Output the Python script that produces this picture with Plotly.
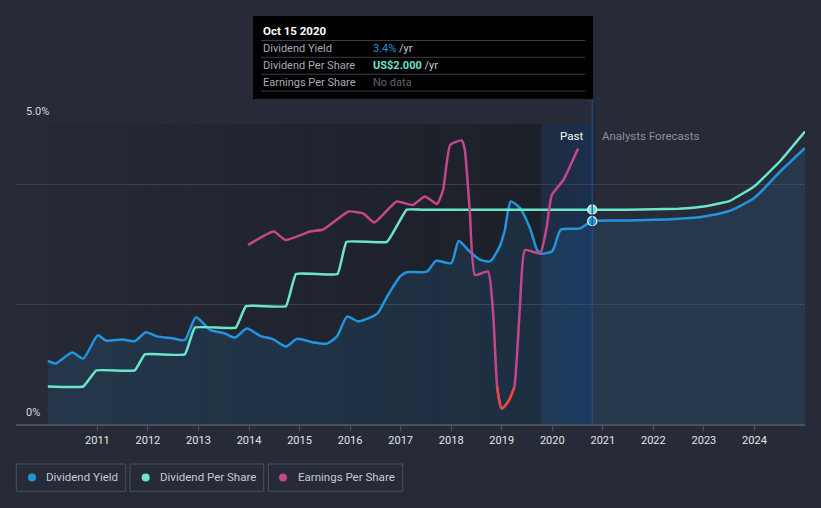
import plotly.graph_objects as go

# ---------------- data ----------------
yield_years = [2010.02, 2010.18, 2010.50, 2010.72, 2011.01, 2011.17, 2011.49, 2011.74, 2011.96,
               2012.18, 2012.48, 2012.73, 2012.95, 2013.23, 2013.52, 2013.72, 2013.96, 2014.22,
               2014.48, 2014.73, 2014.95, 2015.27, 2015.54, 2015.74, 2015.94, 2016.16, 2016.44,
               2016.55, 2016.73, 2016.99, 2017.12, 2017.52, 2017.70, 2018.00, 2018.15, 2018.37,
               2018.57, 2018.77, 2018.96, 2019.06, 2019.18, 2019.36, 2019.56, 2019.70, 2019.78,
               2020.00, 2020.17, 2020.55, 2020.79,
               2021.50, 2022.50, 2023.00, 2023.50, 2024.00, 2024.50, 2025.00]
yield_pct = [1.05, 1.01, 1.19, 1.09, 1.48, 1.39, 1.41, 1.38, 1.53,
             1.46, 1.43, 1.40, 1.78, 1.57, 1.51, 1.44, 1.59, 1.47,
             1.41, 1.29, 1.42, 1.36, 1.34, 1.46, 1.79, 1.71, 1.79,
             1.85, 2.12, 2.46, 2.53, 2.54, 2.72, 2.68, 3.05, 2.87,
             2.74, 2.71, 2.96, 3.23, 3.71, 3.60, 3.26, 2.90, 2.84,
             2.88, 3.24, 3.26, 3.38,
             3.39, 3.42, 3.46, 3.55, 3.77, 4.20, 4.60]

dps_years = [2010.02, 2010.72, 2010.98, 2011.74, 2011.94, 2012.73, 2012.93, 2013.74, 2013.94,
             2014.73, 2014.93, 2015.75, 2015.93, 2016.73, 2017.12, 2017.40, 2018.50, 2019.50,
             2020.50, 2020.79,
             2021.50, 2022.50, 2023.00, 2023.50, 2024.00, 2024.50, 2025.00]
dps_usd = [0.35, 0.35, 0.50, 0.50, 0.65, 0.65, 0.90, 0.90, 1.10,
           1.10, 1.40, 1.40, 1.70, 1.70, 2.00, 2.00, 2.00, 2.00,
           2.00, 2.00,
           2.00, 2.01, 2.03, 2.08, 2.22, 2.45, 2.73]

eps_years = [2013.98, 2014.49, 2014.72, 2015.21, 2015.47, 2015.97, 2016.26, 2016.48, 2016.92,
             2017.24, 2017.48, 2017.72, 2017.84, 2017.98, 2018.21, 2018.27, 2018.37, 2018.47,
             2018.73, 2018.83, 2018.91, 2019.00, 2019.13, 2019.25, 2019.36, 2019.46, 2019.76,
             2019.89, 2019.99, 2020.22, 2020.51]
eps_usd = [2.84, 3.11, 2.94, 3.11, 3.15, 3.51, 3.47, 3.29, 3.71,
           3.64, 3.81, 3.66, 3.94, 4.84, 4.93, 4.74, 3.48, 2.24,
           2.31, 1.47, 0.00, -0.43, -0.29, 0.00, 1.61, 2.74, 2.67,
           3.20, 3.84, 4.14, 4.77]

today = 2020.79
tick_years = [2011, 2012, 2013, 2014, 2015, 2016, 2017, 2018, 2019, 2020, 2021, 2022, 2023, 2024]
tick_labels = [str(y) for y in tick_years]

# ---------------- style ----------------
BG = "#262b37"
BLUE = "#2394df"
TEAL = "#6ce5cb"
PINK = "#c4468b"
RED = "#e8453c"
FONT = "Roboto"

W, H = 821, 508
L, R, T, B = 16, 16, 124, 84
PW, PH = W - L - R, H - T - B
X0, X1 = 2009.39, 2025.0


def px(x):
    return (x - L) / PW


def py(y):
    return (H - B - y) / PH


fig = go.Figure()

# negative EPS segment
neg_x, neg_y = [], []
for i, v in enumerate(eps_usd):
    if v <= 0:
        neg_x.append(eps_years[i])
        neg_y.append(v)

fig.add_trace(go.Scatter(x=yield_years, y=yield_pct, mode="lines", name="Dividend Yield",
                         line=dict(color=BLUE, width=2.5, shape="spline", smoothing=0.6),
                         fill="tozeroy", fillcolor="rgba(35,148,223,0.13)", hoverinfo="skip"))
fig.add_trace(go.Scatter(x=dps_years, y=dps_usd, mode="lines", name="Dividend Per Share", yaxis="y2",
                         line=dict(color=TEAL, width=2.5, shape="spline", smoothing=0.3), hoverinfo="skip"))
fig.add_trace(go.Scatter(x=eps_years, y=eps_usd, mode="lines", name="Earnings Per Share", yaxis="y3",
                         line=dict(color=PINK, width=2.5, shape="spline", smoothing=0.45), hoverinfo="skip"))
fig.add_trace(go.Scatter(x=neg_x, y=neg_y, mode="lines", yaxis="y3",
                         line=dict(color=RED, width=2.5, shape="spline", smoothing=0.8), hoverinfo="skip"))

# today markers
fig.add_trace(go.Scatter(x=[today], y=[dps_usd[dps_years.index(today)]], mode="markers", yaxis="y2",
                         marker=dict(color=TEAL, size=9, line=dict(color="white", width=1.2)), hoverinfo="skip"))
fig.add_trace(go.Scatter(x=[today], y=[yield_pct[yield_years.index(today)]], mode="markers",
                         marker=dict(color=BLUE, size=9, line=dict(color="white", width=1.2)), hoverinfo="skip"))

shapes = []
# dark past gradient
n = 30
xs0, xs1 = 2010.02, 2019.78
for i in range(n):
    a = xs0 + (xs1 - xs0) * i / n
    b = xs0 + (xs1 - xs0) * (i + 1) / n
    op = 0.34 * ((i + 1) / n) ** 0.8
    shapes.append(dict(type="rect", xref="x", yref="paper", x0=a, x1=b, y0=0, y1=1,
                       fillcolor=f"rgba(10,12,16,{op:.3f})", line=dict(width=0), layer="below"))
# blue "past" highlight
m = 12
for i in range(m):
    a = xs1 + (today - xs1) * i / m
    b = xs1 + (today - xs1) * (i + 1) / m
    op = 0.28 + 0.28 * (i + 1) / m
    shapes.append(dict(type="rect", xref="x", yref="paper", x0=a, x1=b, y0=0, y1=1,
                       fillcolor=f"rgba(18,50,96,{op:.3f})", line=dict(width=0), layer="below"))
# today line
shapes.append(dict(type="line", xref="x", yref="paper", x0=today, x1=today, y0=0, y1=py(100),
                   line=dict(color="#1f4d86", width=1.2)))
# tooltip box
shapes.append(dict(type="rect", xref="paper", yref="paper", x0=px(253), x1=px(593), y0=py(99), y1=py(16),
                   fillcolor="#000000", line=dict(width=0)))
for sy in [40.5, 57.3, 74.2, 91]:
    shapes.append(dict(type="line", xref="paper", yref="paper", x0=px(261), x1=px(585), y0=py(sy), y1=py(sy),
                       line=dict(color="#3a3d44", width=1)))
# legend boxes
for (a, b) in [(16.3, 125.7), (130, 263.7), (268.3, 402.7)]:
    shapes.append(dict(type="rect", xref="paper", yref="paper", x0=px(a), x1=px(b), y0=py(491.3), y1=py(464),
                       fillcolor="rgba(0,0,0,0)", line=dict(color="#4b505b", width=1)))

ann = []


def text(x, y, s, color, size=11, xanchor="left", bold=False):
    if bold:
        s = f"<b>{s}</b>"
    ann.append(dict(xref="paper", yref="paper", x=px(x), y=py(y), text=s, showarrow=False,
                    xanchor=xanchor, yanchor="middle", font=dict(color=color, size=size, family=FONT)))


# y labels
text(24, 112, "5.0%", "#d6d8dc", 11)
text(24, 412, "0%", "#d6d8dc", 11)
# Past / Forecast
text(585, 136, "Past", "#ffffff", 11.5, xanchor="right")
text(600, 136, "Analysts Forecasts", "#8b9099", 11.5)
# tooltip
text(261, 31, "Oct 15 2020", "#ffffff", 11.5, bold=True)
text(261, 48.5, "Dividend Yield", "#a9acb3", 11)
text(261, 65.5, "Dividend Per Share", "#a9acb3", 11)
text(261, 82.5, "Earnings Per Share", "#a9acb3", 11)
text(371, 48.5, f"<span style='color:{BLUE}'>3.4%</span> /yr", "#c9cbd0", 11)
text(371, 65.5, f"<span style='color:{TEAL}'><b>US$2.000</b></span> /yr", "#c9cbd0", 11)
text(371, 82.5, "No data", "#62666e", 11)
# legend
for (dx, tx, col, lab) in [(32, 44.3, BLUE, "Dividend Yield"), (145.7, 158, TEAL, "Dividend Per Share"),
                           (283, 296, PINK, "Earnings Per Share")]:
    shapes.append(dict(type="circle", xref="paper", yref="paper", x0=px(dx - 4), x1=px(dx + 4),
                       y0=py(481.5), y1=py(473.5), fillcolor=col, line=dict(width=0)))
    text(tx, 477.5, lab, "#c8cad0", 11.5)

fig.update_layout(
    width=W, height=H, margin=dict(l=L, r=R, t=T, b=B),
    paper_bgcolor=BG, plot_bgcolor=BG, showlegend=False,
    font=dict(family=FONT, color="#d6d8dc"),
    xaxis=dict(range=[X0, X1], tickmode="array", tickvals=tick_years, ticktext=tick_labels,
               showgrid=False, zeroline=False, showline=True, linecolor="#4b505b", linewidth=1.5,
               ticks="outside", ticklen=5, tickcolor="#4b505b", tickfont=dict(size=11, color="#e4e5e8")),
    yaxis=dict(range=[0, 5], tickvals=[2, 4, 5], showticklabels=False, showgrid=True,
               gridcolor="#3b404b", gridwidth=1, zeroline=False),
    yaxis2=dict(range=[0, 2.8], overlaying="y", visible=False),
    yaxis3=dict(range=[-0.74, 5.26], overlaying="y", visible=False),
    shapes=shapes, annotations=ann,
)

fig.write_html("out.html", config={"displayModeBar": False, "staticPlot": True},
               post_script="document.body.style.margin='0';document.body.style.padding='0';"
                           "document.body.style.overflow='hidden';document.body.style.background='" + BG + "';")
